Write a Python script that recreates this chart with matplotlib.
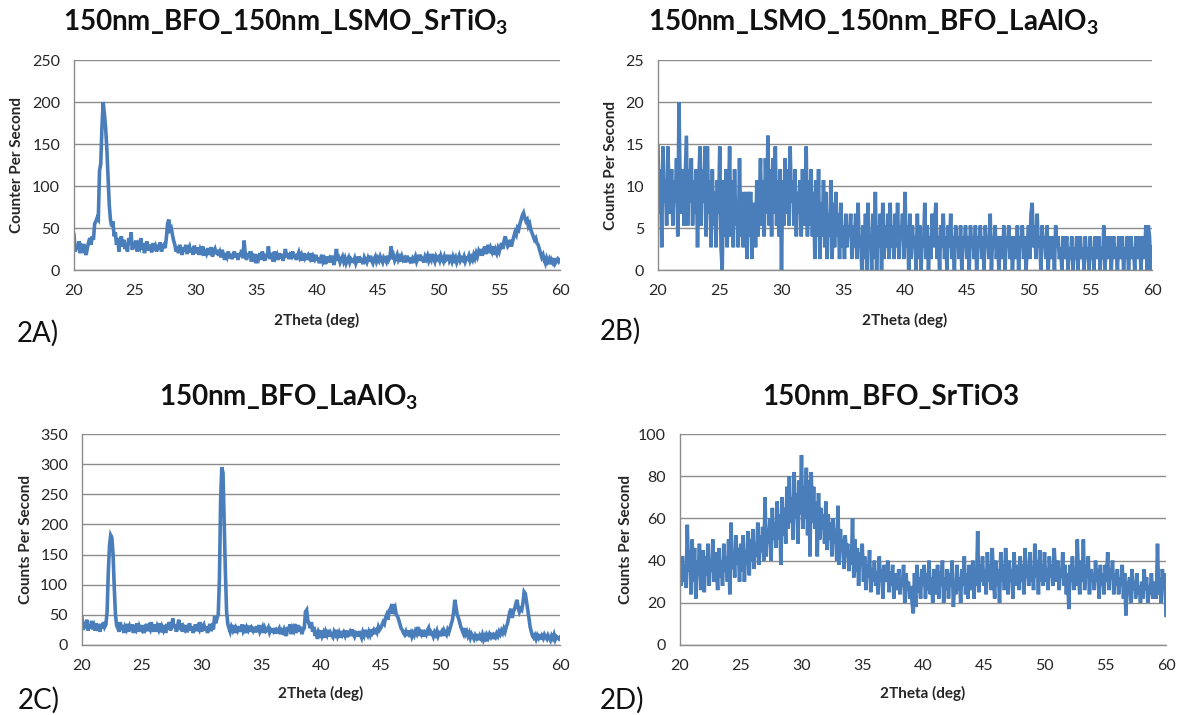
import numpy as np
import matplotlib
matplotlib.use("Agg")
import matplotlib.pyplot as plt

plt.rcParams['font.family'] = ['Lato', 'DejaVu Sans']
plt.rcParams['mathtext.fontset'] = 'custom'
plt.rcParams['mathtext.rm'] = 'Lato'
plt.rcParams['mathtext.default'] = 'regular'

# ---------------- data ----------------
theta_start, theta_end, theta_step = 20.0, 60.0, 0.1

titles = [r"150nm_BFO_150nm_LSMO_SrTiO$_3$", r"150nm_LSMO_150nm_BFO_LaAlO$_3$",
          r"150nm_BFO_LaAlO$_3$", "150nm_BFO_SrTiO3"]
panel_tags = ["2A)", "2B)", "2C)", "2D)"]
y_labels = ["Counter Per Second", "Counts Per Second", "Counts Per Second", "Counts Per Second"]
x_label = "2Theta (deg)"
x_ticks = [20, 25, 30, 35, 40, 45, 50, 55, 60]
y_ticks_a = [0, 50, 100, 150, 200, 250]
y_ticks_b = [0, 5, 10, 15, 20, 25]
y_ticks_c = [0, 50, 100, 150, 200, 250, 300, 350]
y_ticks_d = [0, 20, 40, 60, 80, 100]

cps_a = [
    42, 22, 30, 24, 34, 20, 28, 25, 31, 22,
    18, 26, 33, 38, 30, 40, 36, 55, 58, 62,
    60, 118, 126, 170, 200, 186, 170, 145, 110, 78,
    60, 52, 58, 40, 45, 30, 38, 22, 35, 40,
    28, 36, 25, 32, 22, 38, 30, 45, 24, 33,
    26, 35, 22, 30, 27, 38, 24, 32, 20, 29,
    34, 23, 30, 26, 21, 32, 24, 28, 22, 30,
    25, 33, 22, 28, 30, 26, 38, 55, 60, 48,
    50, 42, 35, 30, 22, 28, 20, 30, 24, 18,
    27, 22, 30, 19, 25, 28, 21, 26, 18, 29,
    24, 20, 27, 18, 25, 22, 28, 17, 24, 20,
    26, 18, 23, 27, 16, 22, 25, 19, 24, 17,
    21, 15, 24, 18, 12, 20, 16, 22, 14, 19,
    13, 18, 22, 15, 19, 12, 20, 16, 24, 14,
    35, 18, 12, 20, 15, 22, 10, 17, 14, 19,
    8, 18, 14, 20, 12, 22, 16, 11, 19, 15,
    28, 13, 20, 16, 10, 22, 15, 18, 12, 20,
    14, 19, 11, 17, 25, 15, 20, 13, 18, 16,
    22, 14, 19, 12, 17, 21, 15, 18, 11, 20,
    15, 19, 12, 17, 14, 20, 10, 16, 13, 18,
    11, 15, 8, 14, 18, 10, 13, 7, 16, 12,
    14, 9, 17, 12, 6, 15, 25, 11, 14, 9,
    13, 16, 10, 14, 8, 12, 15, 9, 13, 11,
    10, 14, 8, 12, 16, 9, 13, 11, 7, 15,
    12, 9, 14, 10, 17, 11, 8, 13, 16, 10,
    14, 11, 16, 12, 9, 15, 13, 10, 17, 12,
    15, 28, 13, 17, 11, 14, 18, 12, 15, 10,
    16, 12, 14, 9, 17, 13, 11, 15, 8, 14,
    12, 16, 10, 14, 18, 11, 15, 13, 9, 16,
    13, 17, 11, 15, 12, 19, 14, 10, 16, 13,
    15, 11, 17, 13, 10, 16, 12, 14, 18, 11,
    14, 10, 16, 12, 15, 9, 13, 17, 11, 14,
    12, 16, 10, 14, 13, 17, 11, 15, 12, 18,
    14, 20, 16, 22, 18, 25, 17, 23, 28, 19,
    24, 30, 20, 26, 22, 28, 18, 24, 20, 26,
    22, 28, 32, 25, 35, 40, 33, 28, 30, 36,
    28, 34, 40, 45, 42, 50, 48, 55, 60, 65,
    68, 62, 58, 60, 52, 55, 48, 44, 40, 36,
    38, 32, 30, 25, 20, 15, 18, 12, 8, 14,
    10, 13, 7, 12, 9, 14, 8, 11, 13, 10,
    12,
]

cps_b = [
    14.7, 6.7, 12, 2.7, 14.7, 8, 10.7, 5.3, 14.7, 9.3,
    6.7, 12, 5.3, 10.7, 8, 13.3, 4, 20, 9.3, 6.7,
    12, 5.3, 10.7, 16, 5.3, 12, 8, 13.3, 5.3, 10.7,
    6.7, 12, 2.7, 10.7, 14.7, 5.3, 12, 8, 14.7, 4,
    14.7, 6.7, 10.7, 2.7, 12, 5.3, 9.3, 2.7, 10.7, 6.7,
    14.7, 2.7, 0, 10.7, 4, 12, 2.7, 8, 14.7, 4,
    10.7, 2.7, 12, 5.3, 8, 2.7, 13.3, 4, 9.3, 2.7,
    8, 9.3, 1.3, 9.3, 4, 9.3, 1.3, 6.7, 8, 2.7,
    10.7, 4, 8, 13.3, 5.3, 10.7, 4, 13.3, 6.7, 16,
    5.3, 12, 4, 13.3, 6.7, 14.7, 5.3, 10.7, 4, 12,
    0, 10.7, 5.3, 13.3, 6.7, 12, 5.3, 14.7, 8, 10.7,
    5.3, 12, 4, 9.3, 6.7, 10.7, 4, 12, 5.3, 8,
    14.7, 4, 10.7, 5.3, 12, 4, 9.3, 1.3, 10.7, 4,
    12, 1.3, 8, 4, 10.7, 2.7, 9.3, 1.3, 6.7, 4,
    10.7, 1.3, 8, 2.7, 9.3, 4, 6.7, 1.3, 8, 2.7,
    5.3, 1.3, 6.7, 2.7, 5.3, 4, 6.7, 1.3, 5.3, 2.7,
    6.7, 1.3, 8, 2.7, 4, 0, 5.3, 1.3, 6.7, 0,
    8, 2.7, 4, 0, 6.7, 1.3, 9.3, 0, 5.3, 2.7,
    6.7, 0, 8, 1.3, 5.3, 2.7, 6.7, 1.3, 8, 2.7,
    5.3, 1.3, 6.7, 2.7, 8, 1.3, 5.3, 4, 6.7, 1.3,
    9.3, 2.7, 5.3, 0, 6.7, 1.3, 5.3, 2.7, 4, 0,
    6.7, 1.3, 5.3, 0, 4, 2.7, 8, 1.3, 5.3, 0,
    4, 1.3, 6.7, 2.7, 5.3, 8, 1.3, 4, 0, 5.3,
    2.7, 6.7, 1.3, 4, 0, 5.3, 2.7, 6.7, 1.3, 4,
    0, 5.3, 2.7, 4, 1.3, 5.3, 0, 4, 2.7, 5.3,
    1.3, 4, 0, 5.3, 2.7, 4, 1.3, 5.3, 0, 4,
    2.7, 5.3, 1.3, 4, 0, 5.3, 2.7, 4, 1.3, 6.7,
    0, 4, 2.7, 5.3, 1.3, 4, 0, 2.7, 4, 1.3,
    5.3, 0, 4, 2.7, 5.3, 1.3, 4, 0, 2.7, 4,
    1.3, 5.3, 0, 4, 2.7, 5.3, 1.3, 4, 0, 2.7,
    5.3, 1.3, 6.7, 8, 2.7, 5.3, 1.3, 6.7, 2.7, 4,
    0, 5.3, 2.7, 4, 1.3, 5.3, 0, 4, 2.7, 1.3,
    4, 0, 5.3, 2.7, 4, 1.3, 2.7, 0, 4, 1.3,
    2.7, 4, 0, 2.7, 1.3, 4, 0, 2.7, 1.3, 4,
    0, 2.7, 4, 1.3, 2.7, 0, 4, 1.3, 2.7, 0,
    4, 1.3, 2.7, 0, 4, 1.3, 2.7, 4, 0, 2.7,
    1.3, 5.3, 0, 4, 2.7, 1.3, 4, 0, 2.7, 4,
    1.3, 2.7, 0, 4, 1.3, 2.7, 4, 0, 2.7, 1.3,
    4, 0, 2.7, 4, 1.3, 2.7, 0, 4, 2.7, 1.3,
    4, 0, 2.7, 4, 1.3, 5.3, 0, 5.3, 4, 0,
    2.7,
]

cps_c = [
    45, 25, 38, 28, 42, 24, 33, 27, 40, 26,
    32, 24, 36, 28, 30, 22, 35, 27, 38, 30,
    34, 55, 120, 165, 182, 178, 150, 95, 50, 32,
    28, 22, 38, 25, 33, 20, 30, 26, 35, 22,
    30, 24, 34, 20, 28, 25, 36, 22, 31, 26,
    24, 33, 20, 28, 35, 23, 30, 26, 38, 22,
    29, 34, 22, 31, 26, 36, 21, 30, 25, 33,
    20, 35, 26, 38, 24, 31, 44, 28, 34, 22,
    32, 42, 25, 36, 22, 30, 26, 33, 21, 29,
    36, 24, 31, 20, 28, 34, 23, 30, 26, 38,
    22, 29, 33, 24, 31, 20, 27, 35, 23, 30,
    26, 48, 36, 45, 50, 110, 240, 295, 285, 200,
    120, 55, 35, 28, 22, 30, 25, 33, 20, 28,
    24, 31, 22, 28, 34, 23, 27, 20, 29, 25,
    32, 22, 28, 24, 30, 21, 27, 25, 33, 22,
    26, 30, 20, 28, 23, 25, 29, 21, 26, 24,
    22, 28, 19, 25, 23, 27, 18, 24, 21, 26,
    20, 15, 30, 22, 34, 18, 28, 24, 35, 20,
    26, 33, 22, 30, 18, 25, 28, 55, 58, 40,
    35, 28, 38, 22, 30, 15, 25, 10, 22, 18,
    24, 15, 20, 12, 22, 17, 25, 14, 20, 16,
    13, 22, 18, 25, 15, 20, 12, 23, 17, 21,
    16, 24, 13, 19, 22, 15, 26, 18, 14, 21,
    20, 14, 23, 17, 12, 21, 16, 25, 18, 15,
    22, 17, 26, 20, 24, 18, 28, 22, 30, 25,
    28, 33, 38, 35, 45, 50, 42, 55, 60, 52,
    68, 58, 62, 50, 48, 42, 35, 28, 25, 20,
    17, 22, 15, 24, 18, 21, 14, 20, 16, 23,
    19, 30, 15, 22, 18, 25, 14, 20, 17, 24,
    28, 16, 22, 19, 14, 21, 17, 23, 15, 20,
    18, 22, 15, 24, 20, 17, 25, 21, 28, 35,
    42, 55, 75, 62, 50, 45, 38, 30, 25, 20,
    28, 18, 22, 15, 20, 12, 18, 14, 10, 16,
    12, 18, 8, 15, 11, 17, 9, 14, 6, 16,
    12, 18, 14, 20, 10, 16, 13, 19, 15, 22,
    18, 24, 20, 27, 22, 30, 35, 45, 55, 60,
    45, 55, 60, 68, 75, 62, 55, 60, 58, 70,
    88, 85, 72, 60, 45, 30, 22, 15, 12, 16,
    10, 16, 12, 18, 9, 15, 11, 17, 13, 10,
    16, 12, 8, 15, 11, 17, 9, 14, 12, 10,
    13,
]

cps_d = [
    35, 28, 42, 30, 38, 27, 57, 35, 45, 24,
    50, 30, 46, 22, 40, 33, 48, 26, 38, 45,
    25, 42, 33, 48, 28, 40, 35, 50, 30, 44,
    36, 26, 46, 32, 40, 28, 48, 35, 42, 30,
    50, 24, 58, 36, 44, 32, 52, 38, 46, 30,
    48, 35, 52, 30, 45, 38, 54, 33, 50, 40,
    55, 36, 48, 42, 58, 38, 52, 44, 56, 40,
    70, 42, 55, 48, 60, 40, 65, 50, 58, 46,
    68, 50, 62, 38, 70, 52, 65, 48, 75, 55,
    80, 58, 70, 50, 82, 60, 72, 48, 78, 62,
    90, 55, 75, 60, 84, 52, 78, 42, 82, 58,
    75, 55, 68, 42, 72, 50, 65, 55, 62, 48,
    68, 45, 62, 50, 58, 42, 60, 48, 55, 40,
    66, 38, 55, 45, 50, 36, 52, 42, 48, 35,
    45, 38, 60, 32, 50, 35, 46, 28, 44, 38,
    48, 30, 42, 26, 38, 32, 45, 25, 36, 30,
    40, 28, 35, 24, 42, 30, 36, 22, 38, 32,
    30, 40, 25, 35, 28, 38, 22, 34, 30, 26,
    36, 24, 32, 28, 38, 20, 34, 26, 30, 22,
    28, 20, 15, 34, 18, 38, 25, 32, 22, 36,
    28, 38, 22, 34, 26, 40, 24, 32, 20, 36,
    30, 24, 38, 22, 35, 28, 40, 20, 32, 26,
    36, 22, 34, 28, 40, 18, 30, 24, 38, 26,
    32, 20, 36, 28, 42, 24, 34, 22, 38, 30,
    26, 40, 22, 36, 28, 54, 25, 38, 30, 42,
    28, 36, 24, 44, 30, 38, 26, 46, 32, 22,
    40, 28, 36, 20, 44, 30, 38, 26, 46, 32,
    24, 40, 30, 36, 22, 44, 28, 38, 34, 26,
    42, 30, 38, 24, 46, 32, 36, 28, 44, 30,
    36, 26, 48, 32, 40, 24, 45, 30, 38, 28,
    44, 30, 36, 26, 42, 32, 38, 28, 46, 34,
    30, 40, 26, 36, 32, 44, 28, 38, 24, 34,
    17, 38, 30, 42, 26, 36, 28, 50, 32, 24,
    40, 30, 50, 26, 38, 32, 42, 24, 36, 30,
    34, 26, 40, 30, 36, 22, 38, 28, 34, 24,
    38, 30, 44, 26, 36, 32, 40, 24, 34, 28,
    36, 24, 32, 28, 38, 22, 34, 14, 30, 26,
    32, 20, 36, 26, 30, 22, 34, 24, 28, 20,
    30, 22, 36, 26, 32, 20, 28, 24, 34, 22,
    26, 30, 22, 48, 24, 32, 20, 36, 28, 34,
    14,
]

series = [cps_a, cps_b, cps_c, cps_d]
y_ticks = [y_ticks_a, y_ticks_b, y_ticks_c, y_ticks_d]

# ---------------- layout (pixel geometry) ----------------
W, H = 1180, 715
def fx(px):
    return px / W
def fy(py):
    return 1 - py / H

rects_px = [(74, 560, 60, 270), (658, 1152, 60, 270),
            (82, 560, 434, 645), (680, 1166, 434, 645)]
title_pos = [(286, 22), (873, 22), (289, 397), (891, 397)]
tag_pos = [(17, 333), (600, 331), (18, 700), (600, 700)]
ylabel_x = [17, 611, 26, 626]
xlabel_y = [320, 320, 693, 693]

line_color = '#4a7ebb'
grid_color = '#8c8c8c'
text_color = '#262626'

fig = plt.figure(figsize=(W / 100, H / 100), dpi=100)

theta = np.round(np.arange(theta_start, theta_end + theta_step / 2, theta_step), 1)

for i in range(4):
    l, r, t, b = rects_px[i]
    ax = fig.add_axes([fx(l), fy(b), fx(r) - fx(l), (b - t) / H])
    ax.plot(theta[:len(series[i])], series[i], color=line_color, lw=2.6,
            solid_joinstyle='miter')
    ax.set_xlim(theta_start, theta_end)
    ax.set_ylim(y_ticks[i][0], y_ticks[i][-1])
    ax.set_xticks(x_ticks)
    ax.set_yticks(y_ticks[i])
    ax.yaxis.grid(True, color=grid_color, lw=1.0)
    ax.set_axisbelow(True)
    for s in ['top', 'right']:
        ax.spines[s].set_visible(False)
    for s in ['left', 'bottom']:
        ax.spines[s].set_color(grid_color)
        ax.spines[s].set_linewidth(1.0)
    ax.tick_params(axis='both', length=0, labelsize=11.5, labelcolor=text_color)
    ax.tick_params(axis='x', pad=10)
    ax.tick_params(axis='y', pad=10)

    cx = (l + r) / 2
    cy = (t + b) / 2
    fig.text(fx(title_pos[i][0]), fy(title_pos[i][1]), titles[i], ha='center',
             va='center', fontsize=20, fontweight='bold', color='#111111')
    fig.text(fx(cx), fy(xlabel_y[i]), x_label, ha='center', va='center',
             fontsize=11, fontweight='bold', color=text_color)
    fig.text(fx(ylabel_x[i]), fy(cy), y_labels[i], ha='center', va='center',
             rotation=90, fontsize=11, fontweight='bold', color=text_color)
    fig.text(fx(tag_pos[i][0]), fy(tag_pos[i][1]), panel_tags[i], ha='left',
             va='center', fontsize=20, color='#111111')

fig.savefig('out.png', dpi=100)
